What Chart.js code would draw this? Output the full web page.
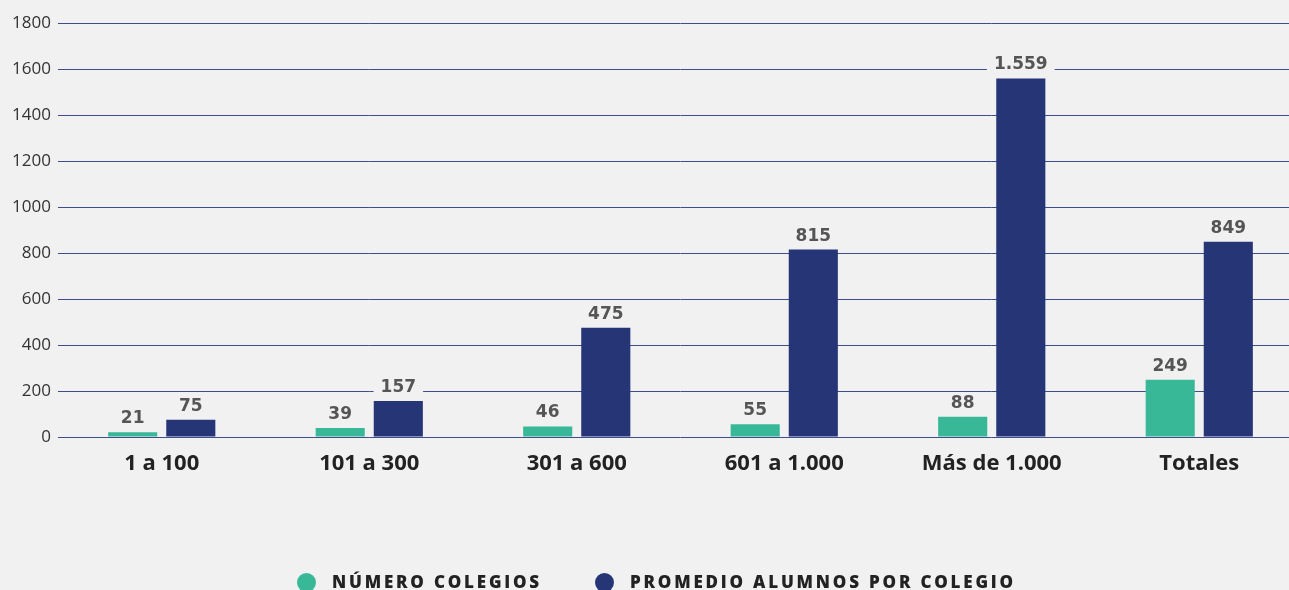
<!DOCTYPE html>
<html>
<head>
<meta charset="utf-8">
<script src="https://cdn.jsdelivr.net/npm/chart.js@4/dist/chart.umd.min.js"></script>
<style>
  html, body { margin: 0; padding: 0; background: #f1f1f1; overflow: hidden; width: 1289px; height: 590px; }
  #wrap { position: absolute; left: 0; top: 0; width: 1303px; height: 590px; }
  #legend { position: absolute; left: 0; top: 568px; width: 1289px; height: 30px; font-family: "Open Sans", sans-serif; font-weight: 800; font-size: 17px; letter-spacing: 2.8px; color: #222; }
  .item { position: absolute; top: 0; display: flex; align-items: center; white-space: nowrap; line-height: 28px; }
  .dot { width: 19px; height: 19px; border-radius: 50%; margin-right: 16px; }
</style>
</head>
<body>
<div id="wrap"><canvas id="c"></canvas></div>
<div id="legend"></div>
<script>
const categories = ["1 a 100", "101 a 300", "301 a 600", "601 a 1.000", "Más de 1.000", "Totales"];
const numeroColegios = [21, 39, 46, 55, 88, 249];
const promedioAlumnos = [75, 157, 475, 815, 1559, 849];
const seriesNames = ["NÚMERO COLEGIOS", "PROMEDIO ALUMNOS POR COLEGIO"];
const seriesColors = ["#39b897", "#253576"];
const yTicks = { min: 0, max: 1800, step: 200 };

function fmt(v) { return String(v).replace(/\B(?=(\d{3})+(?!\d))/g, "."); }

const labelPlugin = {
  id: "valueLabels",
  afterDatasetsDraw(chart) {
    const ctx = chart.ctx;
    ctx.save();
    ctx.font = "bold 17px 'DejaVu Sans'";
    ctx.textAlign = "center";
    ctx.textBaseline = "alphabetic";
    chart.data.datasets.forEach((ds, di) => {
      const meta = chart.getDatasetMeta(di);
      meta.data.forEach((bar, i) => {
        const txt = fmt(ds.data[i]);
        const w = ctx.measureText(txt).width;
        const base = bar.y - 9;
        ctx.fillStyle = "#f1f1f1";
        ctx.fillRect(bar.x - w / 2 - 7, base - 15, w + 14, 19);
        ctx.fillStyle = "#555555";
        ctx.fillText(txt, bar.x, base);
      });
    });
    ctx.restore();
  }
};

new Chart(document.getElementById("c"), {
  type: "bar",
  data: {
    labels: categories,
    datasets: [
      { label: seriesNames[0], data: numeroColegios, backgroundColor: seriesColors[0], barPercentage: 0.845, categoryPercentage: 0.56 },
      { label: seriesNames[1], data: promedioAlumnos, backgroundColor: seriesColors[1], barPercentage: 0.845, categoryPercentage: 0.56 }
    ]
  },
  options: {
    responsive: true,
    maintainAspectRatio: false,
    animation: false,
    layout: { padding: { top: 23, right: 0, bottom: 0, left: 0 } },
    plugins: { legend: { display: false }, tooltip: { enabled: false } },
    scales: {
      x: {
        grid: { display: false },
        border: { display: false },
        ticks: { color: "#222", font: { family: "Open Sans", weight: "bold", size: 22 }, padding: 6, maxRotation: 0 },
        afterFit(s) { s.height = 153; }
      },
      y: {
        min: yTicks.min, max: yTicks.max,
        grid: { color: "#3f4d8f", lineWidth: 1, drawTicks: false },
        border: { display: false },
        ticks: { stepSize: yTicks.step, color: "#333", font: { family: "Open Sans", size: 17 }, padding: 7, callback: v => String(v) },
        afterFit(s) { s.width = 58; }
      }
    }
  },
  plugins: [labelPlugin]
});

const legend = document.getElementById("legend");
const legendX = [297, 595];
seriesNames.forEach((n, i) => {
  const it = document.createElement("div");
  it.className = "item";
  it.style.left = legendX[i] + "px";
  it.innerHTML = '<span class="dot" style="background:' + seriesColors[i] + '"></span><span>' + n + '</span>';
  legend.appendChild(it);
});
</script>
</body>
</html>
